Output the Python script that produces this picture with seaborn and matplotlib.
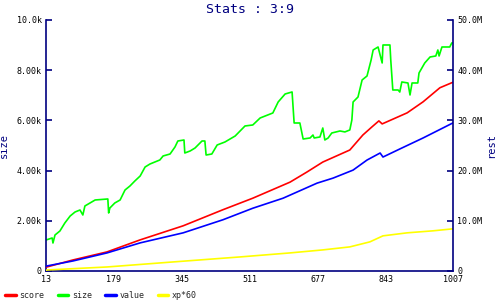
import matplotlib
matplotlib.use("Agg")
import matplotlib.pyplot as plt
import seaborn as sns
import pandas as pd
from matplotlib.lines import Line2D

# ---- data ----
size_x = [13, 28, 30, 35, 47, 59, 72, 84, 96, 103, 108, 133, 164, 166, 169, 181, 194, 206,
          218, 230, 243, 255, 267, 279, 291, 299, 316, 328, 335, 350, 352, 365, 377, 394,
          401, 404, 418, 431, 450, 475, 499, 518, 536, 567, 580, 597, 614, 619, 633, 641,
          658, 665, 668, 682, 689, 694, 702, 711, 731, 743, 755, 760, 763, 775, 785, 797,
          807, 812, 824, 834, 836, 853, 855, 858, 860, 873, 877, 882, 897, 902, 907, 921,
          924, 938, 951, 965, 970, 973, 980, 999, 1004, 1007]
size_v = [1235, 1315, 1115, 1434, 1594, 1912, 2191, 2351, 2430, 2231, 2590, 2829, 2869, 2311,
          2510, 2709, 2829, 3227, 3386, 3586, 3785, 4143, 4263, 4343, 4422, 4582, 4661, 4940,
          5179, 5219, 4701, 4781, 4900, 5179, 5179, 4621, 4661, 5020, 5139, 5378, 5777, 5817,
          6096, 6295, 6733, 7052, 7132, 5896, 5896, 5259, 5299, 5418, 5299, 5339, 5697, 5219,
          5299, 5498, 5578, 5540, 5618, 6016, 6733, 6932, 7609, 7769, 8406, 8805, 8924, 8287,
          9004, 9004, 8406, 7689, 7211, 7211, 7130, 7530, 7490, 7012, 7490, 7490, 7888, 8287,
          8526, 8566, 8805, 8566, 8924, 8924, 9084, 9084]

score_x = [13, 15, 79, 162, 243, 348, 445, 518, 609, 650, 689, 755, 787, 809, 826, 834, 895,
           934, 975, 1007]
score_v = [0.7e6, 0.8e6, 2.2e6, 3.8e6, 6.2e6, 9.0e6, 12.2e6, 14.5e6, 17.7e6, 19.7e6, 21.7e6,
           24.1e6, 27.1e6, 28.7e6, 29.9e6, 29.3e6, 31.5e6, 33.7e6, 36.5e6, 37.6e6]

value_x = [13, 15, 79, 162, 243, 348, 445, 518, 592, 675, 714, 763, 797, 829, 836, 877, 934, 1007]
value_v = [0.9e6, 1.0e6, 2.0e6, 3.6e6, 5.6e6, 7.6e6, 10.2e6, 12.5e6, 14.5e6, 17.5e6, 18.5e6,
           20.1e6, 22.1e6, 23.5e6, 22.7e6, 24.3e6, 26.5e6, 29.5e6]

xp_x = [13, 15, 162, 323, 487, 609, 689, 755, 804, 836, 895, 958, 1007]
xp_v = [0.1e6, 0.2e6, 0.8e6, 1.8e6, 2.8e6, 3.6e6, 4.2e6, 4.8e6, 5.8e6, 7.0e6, 7.6e6, 8.0e6, 8.4e6]

x_ticks = [13, 179, 345, 511, 677, 843, 1007]
left_ticks = [0, 2000, 4000, 6000, 8000, 10000]
left_labels = ["0", "2.00k", "4.00k", "6.00k", "8.00k", "10.0k"]
right_ticks = [0, 10e6, 20e6, 30e6, 40e6, 50e6]
right_labels = ["0", "10.0M", "20.0M", "30.0M", "40.0M", "50.0M"]
title = "Stats : 3:9"

NAVY = "#000080"
sns.set_style("white")
plt.rcParams["font.family"] = ["DejaVu Sans Mono", "DejaVu Sans"]

fig = plt.figure(figsize=(5, 3), dpi=100)
ax = fig.add_axes([0.092, 0.0967, 0.814, 0.8367])
ax2 = ax.twinx()

kw = dict(estimator=None, sort=False, linewidth=1.2, legend=False)
sns.lineplot(x=size_x, y=size_v, ax=ax, color="#00ff00", **kw)
sns.lineplot(x=score_x, y=score_v, ax=ax2, color="#ff0000", **kw)
sns.lineplot(x=value_x, y=value_v, ax=ax2, color="#0000ff", **kw)
sns.lineplot(x=xp_x, y=xp_v, ax=ax2, color="#ffff00", **kw)

ax.set_xlim(13, 1007)
ax.set_ylim(0, 10000)
ax2.set_ylim(0, 50e6)
ax.set_xticks(x_ticks)
ax.set_xticklabels([str(t) for t in x_ticks])
ax.set_yticks(left_ticks)
ax.set_yticklabels(left_labels)
ax2.set_yticks(right_ticks)
ax2.set_yticklabels(right_labels)

for a in (ax, ax2):
    for s in a.spines.values():
        s.set_color(NAVY)
        s.set_linewidth(1.2)
    a.spines["top"].set_visible(False)
    a.tick_params(direction="in", length=4, width=1.2, color=NAVY, labelsize=6,
                  labelcolor="black", pad=3)
    a.grid(False)
ax.spines["right"].set_visible(False)
ax2.spines["left"].set_visible(False)
ax2.spines["bottom"].set_visible(False)

ax.set_xlabel("")
ax.set_ylabel("size", color=NAVY, fontsize=7.5, labelpad=6)
ax2.set_ylabel("rest", color=NAVY, fontsize=7.5, labelpad=3)
ax2.yaxis.set_label_position("right")
fig.suptitle(title, color=NAVY, fontsize=9.5, y=0.99)

handles = [Line2D([], [], color=c, linewidth=2.5) for c in ["#ff0000", "#00ff00", "#0000ff", "#ffff00"]]
labels = ["score", "size", "value", "xp*60"]
fig.legend(handles, labels, loc="lower left", bbox_to_anchor=(-0.005, -0.025), ncol=4,
           frameon=False, fontsize=6, handlelength=1.3, handletextpad=0.4, columnspacing=1.6)

fig.savefig("out.png", dpi=100)
